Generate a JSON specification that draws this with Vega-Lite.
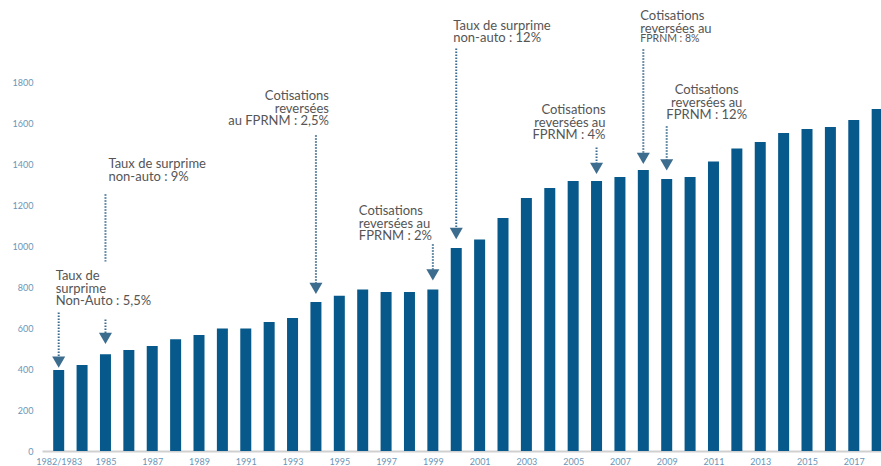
{
  "$schema": "https://vega.github.io/schema/vega-lite/v6.json",
  "width": 839,
  "height": 451,
  "autosize": {"type": "none"},
  "padding": {"left": 42, "top": 0, "right": 0, "bottom": 15},
  "background": "white",
  "config": {
    "view": {"stroke": null},
    "font": "Lato",
    "text": {"font": "Lato", "fontSize": 13, "color": "#555555", "lineBreak": "\n", "lineHeight": 12.5, "baseline": "alphabetic"}
  },
  "datasets": {
    "bars": [
      {"year": 1983, "value": 395}, {"year": 1984, "value": 420}, {"year": 1985, "value": 472},
      {"year": 1986, "value": 493}, {"year": 1987, "value": 512}, {"year": 1988, "value": 545},
      {"year": 1989, "value": 566}, {"year": 1990, "value": 598}, {"year": 1991, "value": 598},
      {"year": 1992, "value": 629}, {"year": 1993, "value": 649}, {"year": 1994, "value": 727},
      {"year": 1995, "value": 757}, {"year": 1996, "value": 788}, {"year": 1997, "value": 776},
      {"year": 1998, "value": 776}, {"year": 1999, "value": 788}, {"year": 2000, "value": 990},
      {"year": 2001, "value": 1032}, {"year": 2002, "value": 1137}, {"year": 2003, "value": 1234},
      {"year": 2004, "value": 1283}, {"year": 2005, "value": 1317}, {"year": 2006, "value": 1317},
      {"year": 2007, "value": 1337}, {"year": 2008, "value": 1371}, {"year": 2009, "value": 1327},
      {"year": 2010, "value": 1337}, {"year": 2011, "value": 1412}, {"year": 2012, "value": 1476},
      {"year": 2013, "value": 1507}, {"year": 2014, "value": 1551}, {"year": 2015, "value": 1571},
      {"year": 2016, "value": 1580}, {"year": 2017, "value": 1615}, {"year": 2018, "value": 1668}
    ],
    "arrows": [
      {"year": 1983, "top": 676, "bottom": 434},
      {"year": 1985, "top": 1252, "bottom": 925},
      {"year": 1985, "top": 642, "bottom": 549},
      {"year": 1994, "top": 1540, "bottom": 793},
      {"year": 1999, "top": 1008, "bottom": 859},
      {"year": 2000, "top": 1964, "bottom": 1061},
      {"year": 2006, "top": 1481, "bottom": 1379},
      {"year": 2008, "top": 1960, "bottom": 1427},
      {"year": 2009, "top": 1584, "bottom": 1396}
    ],
    "tips": [
      {"year": 1983, "tip": 434}, {"year": 1985, "tip": 549}, {"year": 1994, "tip": 793},
      {"year": 1999, "tip": 859}, {"year": 2000, "tip": 1061}, {"year": 2006, "tip": 1379},
      {"year": 2008, "tip": 1427}, {"year": 2009, "tip": 1396}
    ],
    "notes": [
      {"id": "A1", "year": 1983, "y": 832, "text": "Taux de\nsurprime\nNon-Auto : 5,5%"},
      {"id": "A2", "year": 1985, "y": 1379, "text": "Taux de surprime\nnon-auto : 9%"},
      {"id": "A3", "year": 1994, "y": 1712, "text": "Cotisations\nreversées\nau FPRNM : 2,5%"},
      {"id": "A4", "year": 1999, "y": 1151, "text": "Cotisations\nreversées au\nFPRNM : 2%"},
      {"id": "A5", "year": 2000, "y": 2054, "text": "Taux de surprime\nnon-auto : 12%"},
      {"id": "A6", "year": 2006, "y": 1642, "text": "Cotisations\nreversées au\nFPRNM : 4%"},
      {"id": "A7", "year": 2008, "y": 2102, "text": "Cotisations\nreversées au"},
      {"id": "A7b", "year": 2008, "y": 1995, "text": "FPRNM : 8%"},
      {"id": "A8", "year": 2009, "y": 1740, "text": "Cotisations\nreversées au\nFPRNM : 12%"}
    ]
  },
  "layer": [
    {
      "data": {"name": "bars"},
      "mark": {"type": "bar", "size": 11, "color": "#06598a", "clip": true},
      "encoding": {
        "x": {
          "field": "year", "type": "quantitative",
          "scale": {"domain": [1982.5, 2017.95], "nice": false, "zero": false},
          "axis": {
            "title": null,
            "values": [1983, 1985, 1987, 1989, 1991, 1993, 1995, 1997, 1999, 2001, 2003, 2005, 2007, 2009, 2011, 2013, 2015, 2017],
            "format": "d",
            "labelExpr": "datum.value == 1983 ? '1982/1983' : datum.label",
            "ticks": false,
            "grid": false,
            "domainColor": "#d0d0d0",
            "domainWidth": 2,
            "labelFont": "Lato",
            "labelFontSize": 9,
            "labelColor": "#6a96b8",
            "labelPadding": 6,
            "labelFlush": false,
            "labelOverlap": false
          }
        },
        "y": {
          "field": "value", "type": "quantitative",
          "scale": {"domain": [0, 2200], "nice": false},
          "axis": {
            "title": null,
            "values": [0, 200, 400, 600, 800, 1000, 1200, 1400, 1600, 1800],
            "format": "d",
            "ticks": false,
            "domain": false,
            "grid": false,
            "labelFont": "Lato",
            "labelFontSize": 9,
            "labelColor": "#6a96b8",
            "labelPadding": 9
          }
        }
      }
    },
    {
      "data": {"name": "arrows"},
      "mark": {"type": "rule", "color": "#3d6d8e", "strokeWidth": 2, "strokeDash": [1.5, 1.5]},
      "encoding": {
        "x": {"field": "year", "type": "quantitative"},
        "y": {"field": "top", "type": "quantitative"},
        "y2": {"field": "bottom"}
      }
    },
    {
      "data": {"name": "tips"},
      "mark": {"type": "point", "shape": "triangle-down", "filled": true, "size": 170, "color": "#3d6d8e", "opacity": 1},
      "encoding": {
        "x": {"field": "year", "type": "quantitative"},
        "y": {"field": "tip", "type": "quantitative"}
      }
    },
    {
      "data": {"name": "notes"},
      "transform": [{"filter": "datum.id == 'A1'"}],
      "mark": {"type": "text", "align": "left", "dx": -3},
      "encoding": {"x": {"field": "year", "type": "quantitative"}, "y": {"field": "y", "type": "quantitative"}, "text": {"field": "text"}}
    },
    {
      "data": {"name": "notes"},
      "transform": [{"filter": "datum.id == 'A2'"}],
      "mark": {"type": "text", "align": "left", "dx": 3},
      "encoding": {"x": {"field": "year", "type": "quantitative"}, "y": {"field": "y", "type": "quantitative"}, "text": {"field": "text"}}
    },
    {
      "data": {"name": "notes"},
      "transform": [{"filter": "datum.id == 'A3'"}],
      "mark": {"type": "text", "align": "right", "dx": 13},
      "encoding": {"x": {"field": "year", "type": "quantitative"}, "y": {"field": "y", "type": "quantitative"}, "text": {"field": "text"}}
    },
    {
      "data": {"name": "notes"},
      "transform": [{"filter": "datum.id == 'A4'"}],
      "mark": {"type": "text", "align": "left", "dx": -74},
      "encoding": {"x": {"field": "year", "type": "quantitative"}, "y": {"field": "y", "type": "quantitative"}, "text": {"field": "text"}}
    },
    {
      "data": {"name": "notes"},
      "transform": [{"filter": "datum.id == 'A5'"}],
      "mark": {"type": "text", "align": "left", "dx": -3},
      "encoding": {"x": {"field": "year", "type": "quantitative"}, "y": {"field": "y", "type": "quantitative"}, "text": {"field": "text"}}
    },
    {
      "data": {"name": "notes"},
      "transform": [{"filter": "datum.id == 'A6'"}],
      "mark": {"type": "text", "align": "right", "dx": 9},
      "encoding": {"x": {"field": "year", "type": "quantitative"}, "y": {"field": "y", "type": "quantitative"}, "text": {"field": "text"}}
    },
    {
      "data": {"name": "notes"},
      "transform": [{"filter": "datum.id == 'A7'"}],
      "mark": {"type": "text", "align": "left", "dx": -3},
      "encoding": {"x": {"field": "year", "type": "quantitative"}, "y": {"field": "y", "type": "quantitative"}, "text": {"field": "text"}}
    },
    {
      "data": {"name": "notes"},
      "transform": [{"filter": "datum.id == 'A7b'"}],
      "mark": {"type": "text", "align": "left", "dx": -3, "fontSize": 10.5},
      "encoding": {"x": {"field": "year", "type": "quantitative"}, "y": {"field": "y", "type": "quantitative"}, "text": {"field": "text"}}
    },
    {
      "data": {"name": "notes"},
      "transform": [{"filter": "datum.id == 'A8'"}],
      "mark": {"type": "text", "align": "center", "dx": 40},
      "encoding": {"x": {"field": "year", "type": "quantitative"}, "y": {"field": "y", "type": "quantitative"}, "text": {"field": "text"}}
    }
  ]
}
